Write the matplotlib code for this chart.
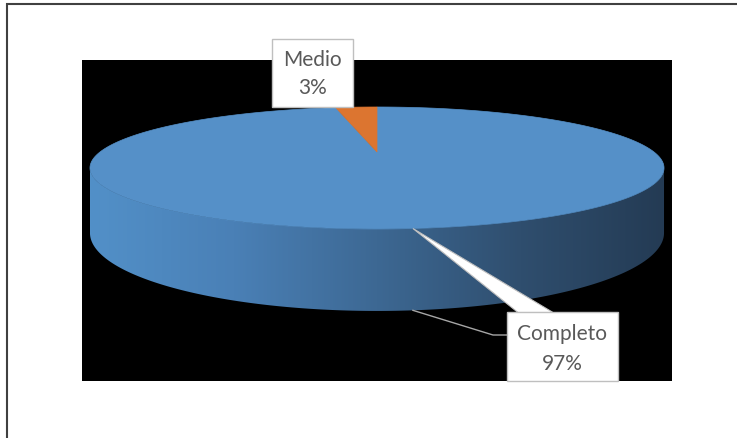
import numpy as np
import matplotlib.pyplot as plt
from matplotlib.patches import Polygon, Rectangle
from matplotlib.colors import LinearSegmentedColormap

# data
labels = ['Completo', 'Medio']
values = [97, 3]
colors = ['#5590c8', '#dc7530']

plt.rcParams['font.family'] = ['Lato', 'DejaVu Sans']

fig = plt.figure(figsize=(7.37, 4.39), dpi=100)
ax = fig.add_axes([0, 0, 1, 1])
ax.set_xlim(0, 737)
ax.set_ylim(439, 0)
ax.axis('off')

# chart border and black plot area
ax.add_patch(Rectangle((7, 5), 760, 460, facecolor='white', edgecolor='#404040', lw=1.5))
ax.add_patch(Rectangle((82, 61), 590, 321, facecolor='black', edgecolor='none'))

# perspective projection of the tilted disc
cx, cy = 377, 153
A, B, k, H = 277, 56.8, 0.262, 60.5


def proj(theta, drop=0.0):
    u, v = np.cos(theta), np.sin(theta)
    s = 1 + k * v
    return np.column_stack([cx + A * u / s, cy - B * v / s + drop / s])


# side of the cylinder (front part)
t1 = np.pi + np.arcsin(k)
t2 = 2 * np.pi - np.arcsin(k)
tt = np.linspace(t1, t2, 300)
side_pts = np.vstack([proj(tt), proj(tt[::-1], H)])
side = Polygon(side_pts, closed=True, facecolor='none', edgecolor='none')
ax.add_patch(side)
cmap = LinearSegmentedColormap.from_list('side', ['#5290c8', '#4a80b6', '#3d6893', '#2f4e6e', '#243b54'])
grad = np.linspace(0, 1, 256)[None, :]
xmin, xmax = side_pts[:, 0].min(), side_pts[:, 0].max()
ymin, ymax = side_pts[:, 1].min(), side_pts[:, 1].max()
im = ax.imshow(grad, cmap=cmap, extent=(xmin, xmax, ymax, ymin), aspect='auto', zorder=2)
im.set_clip_path(side)

# top face wedges, clockwise from 12 o'clock
start = np.pi / 2
total = sum(values)
for val, col in zip(values, colors):
    end = start - 2 * np.pi * val / total
    th = np.linspace(start, end, max(int(abs(end - start) * 60), 4))
    pts = np.vstack([[[cx, cy]], proj(th)])
    ax.add_patch(Polygon(pts, closed=True, facecolor=col, edgecolor=col, lw=0.5, zorder=3))
    start = end

# Completo callout
anchor = np.deg2rad(275.5)
p_top = proj(np.array([anchor]))[0]
p_bot = proj(np.array([anchor]), H)[0]
ax.plot([p_bot[0], 493, 507], [p_bot[1], 336, 336], color='#a6a6a6', lw=1, zorder=4)
ax.add_patch(Polygon([p_top, (518, 313.5), (553, 313.5)], closed=True,
                     facecolor='white', edgecolor='#bfbfbf', lw=0.8, zorder=4))
ax.add_patch(Rectangle((507, 313), 111, 69, facecolor='white', edgecolor='#bfbfbf', lw=1, zorder=5))
ax.text(562.5, 334, labels[0], ha='center', va='center', fontsize=15, color='#595959', zorder=6)
ax.text(562.5, 364, f'{values[0]}%', ha='center', va='center', fontsize=15, color='#595959', zorder=6)

# Medio callout
ax.add_patch(Rectangle((272, 40), 81, 68, facecolor='white', edgecolor='#bfbfbf', lw=1, zorder=5))
ax.text(312.5, 60, labels[1], ha='center', va='center', fontsize=15, color='#595959', zorder=6)
ax.text(312.5, 88, f'{values[1]}%', ha='center', va='center', fontsize=15, color='#595959', zorder=6)

fig.savefig('out.png', dpi=100)
